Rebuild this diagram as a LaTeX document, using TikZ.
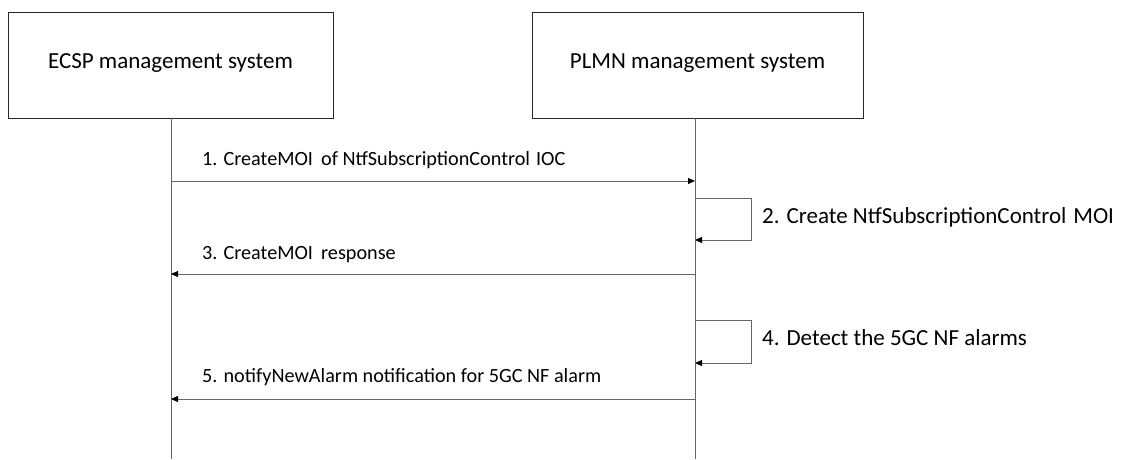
\documentclass[tikz,border=0pt]{standalone}
\usepackage{fontspec}
\setmainfont{Carlito}
\usetikzlibrary{arrows.meta}
\begin{document}
\begin{tikzpicture}[x=1pt,y=-1pt,
  font=\fontsize{20.2}{24}\selectfont,
  actor/.style={draw=black!85,line width=1pt,minimum width=325pt,minimum height=106pt,inner sep=0pt,text depth=8pt,font=\fontsize{23}{27}\selectfont},
  life/.style={draw=black!60,line width=0.8pt},
  msg/.style={draw=black!60,line width=0.8pt,-{Triangle[length=7pt,width=6pt,color=black]}},
  lbl/.style={anchor=west,inner sep=0pt},
  selflbl/.style={lbl,font=\fontsize{23}{27}\selectfont}]
\useasboundingbox (0,0) rectangle (1122,459);
\node[actor] (ecsp) at (170.5,65) {ECSP management system};
\node[actor,minimum width=331pt] (plmn) at (697.5,65) {PLMN management system};
\coordinate (le) at (171,459);
\coordinate (lp) at (695,459);
\draw[life] (171,118) -- (le);
\draw[life] (695,118) -- (lp);
% message 1
\coordinate (a1) at (171,181);
\coordinate (b1) at (695,181);
\draw[msg] (a1) -- (b1);
\node[lbl] (t1) at (202,160) {1. CreateMOI\hspace{0.4em}of NtfSubscriptionControl\hspace{0.3em}IOC};
% self 2
\coordinate (s2a) at (695,198);
\coordinate (s2b) at (751,198);
\coordinate (s2c) at (751,240);
\coordinate (s2d) at (695,240);
\draw[msg] (s2a) -- (s2b) -- (s2c) -- (s2d);
\node[selflbl] (t2) at (762,217) {2. Create NtfSubscriptionControl\hspace{0.3em}MOI};
% message 3
\coordinate (a3) at (695,274);
\coordinate (b3) at (171,274);
\draw[msg] (a3) -- (b3);
\node[lbl] (t3) at (202,255) {3. CreateMOI\hspace{0.4em}response};
% self 4
\coordinate (s4a) at (695,320);
\coordinate (s4b) at (751,320);
\coordinate (s4c) at (751,363);
\coordinate (s4d) at (695,363);
\draw[msg] (s4a) -- (s4b) -- (s4c) -- (s4d);
\node[selflbl] (t4) at (762,338) {4. Detect the 5GC NF alarms};
% message 5
\coordinate (a5) at (695,399);
\coordinate (b5) at (171,399);
\draw[msg] (a5) -- (b5);
\node[lbl] (t5) at (202,377) {5. notifyNewAlarm notification for 5GC NF alarm};
\end{tikzpicture}
\end{document}
